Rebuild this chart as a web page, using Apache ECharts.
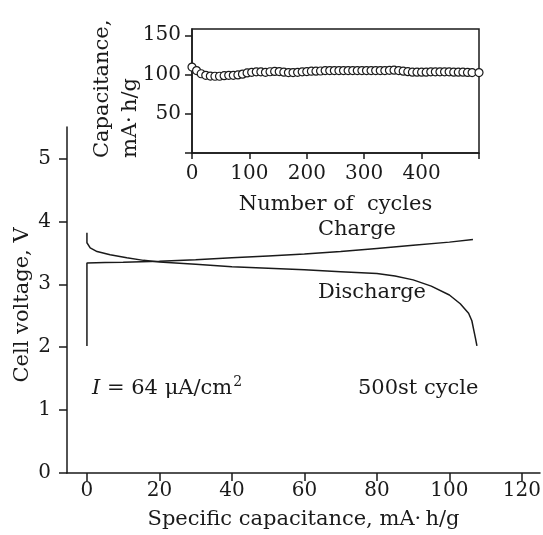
<!DOCTYPE html>
<html>
<head>
<meta charset="utf-8">
<script src="https://cdn.jsdelivr.net/npm/echarts@6/dist/echarts.min.js"></script>
<style>html,body{margin:0;padding:0;background:#fff}#c{width:543px;height:535px}</style>
</head>
<body>
<div id="c"></div>
<script>
// Main plot: 500th cycle charge/discharge curves
const chargeCap = [0, 0, 5, 10, 20, 30, 40, 50, 60, 70, 80, 90, 100, 106.5];
const chargeV   = [2.02, 3.34, 3.345, 3.35, 3.365, 3.39, 3.42, 3.45, 3.48, 3.52, 3.57, 3.62, 3.67, 3.71];
const dischargeCap = [0, 0, 0.9, 2.8, 6.4, 11, 15.6, 20, 30, 40, 50, 60, 70, 80, 85, 90, 95, 100, 103, 105.3, 106.2, 106.7, 107.2, 107.6];
const dischargeV   = [3.82, 3.66, 3.58, 3.52, 3.47, 3.42, 3.38, 3.355, 3.32, 3.28, 3.255, 3.23, 3.20, 3.17, 3.13, 3.07, 2.97, 2.83, 2.69, 2.54, 2.42, 2.28, 2.14, 2.02];
const mainXTicks = [0, 20, 40, 60, 80, 100, 120];
const mainYTicks = [0, 1, 2, 3, 4, 5];

// Inset: capacitance vs cycle number
const cycles = [0, 8, 16, 24, 32, 40, 48, 56, 64, 72, 80, 88, 96, 104, 112, 120, 128, 136, 144, 152, 160, 168, 176, 184, 192, 200, 208, 216, 224, 232, 240, 248, 256, 264, 272, 280, 288, 296, 304, 312, 320, 328, 336, 344, 352, 360, 368, 376, 384, 392, 400, 408, 416, 424, 432, 440, 448, 456, 464, 472, 480, 488, 500];
const capacity = [109.5, 105, 101, 99, 98, 97.8, 97.8, 98.5, 99, 99, 99.5, 100.5, 102, 102.8, 103.4, 103.4, 102.8, 103.5, 104, 103.8, 103, 102.5, 102.5, 102.8, 103.4, 103.8, 104.2, 104.3, 104.5, 105, 105, 105, 105, 105, 105, 105, 105, 105, 105, 105, 105, 105, 105, 105.3, 105.5, 105, 104.3, 103.6, 103, 103, 103, 103, 103.4, 103.4, 103.4, 103.4, 103.4, 103, 103, 103, 102.7, 102.5, 102.5];
const insetXLabels = [0, 100, 200, 300, 400];
const insetXTicks = [0, 100, 200, 300, 400, 500];
const insetYLabels = [50, 100, 150];
const insetYTicks = [0, 50, 100, 150];

const ink = '#1a1a1a';
const FONT = 'DejaVu Serif';
const FS = 21;

const zip = (a, b) => a.map((v, i) => [v, b[i]]);

const chart = echarts.init(document.getElementById('c'), null, {renderer: 'canvas'});
chart.setOption({
  animation: false,
  backgroundColor: '#fff',
  textStyle: {fontFamily: FONT, color: ink},
  grid: [
    {left: 67, right: 3, top: 127, bottom: 62, containLabel: false, outerBoundsMode: 'none'},
    {left: 192, right: 64, top: 29, bottom: 382, containLabel: false, outerBoundsMode: 'none', show: true, borderColor: ink, borderWidth: 1.5, backgroundColor: 'transparent'}
  ],
  xAxis: [
    {
      type: 'value', gridIndex: 0, min: -5.5, max: 125,
      name: 'Specific capacitance, mA·\u2009h/g', nameLocation: 'middle', nameGap: 36,
      nameTextStyle: {fontFamily: FONT, fontSize: FS, color: ink},
      axisLine: {show: true, onZero: false, lineStyle: {color: ink, width: 1.5}},
      axisTick: {show: true, length: 8, lineStyle: {color: ink, width: 1.5}, customValues: mainXTicks},
      axisLabel: {fontFamily: FONT, fontSize: 20, color: ink, margin: 8, customValues: mainXTicks},
      splitLine: {show: false}
    },
    {
      type: 'value', gridIndex: 1, min: 0, max: 500,
      name: 'Number of  cycles', nameLocation: 'middle', nameGap: 41,
      nameTextStyle: {fontFamily: FONT, fontSize: FS, color: ink},
      axisLine: {show: true, onZero: false, lineStyle: {color: ink, width: 1.5}},
      axisTick: {show: true, length: 6, lineStyle: {color: ink, width: 1.5}, customValues: insetXTicks},
      axisLabel: {fontFamily: FONT, fontSize: 20, color: ink, margin: 11, customValues: insetXLabels},
      splitLine: {show: false}
    }
  ],
  yAxis: [
    {
      type: 'value', gridIndex: 0, min: 0, max: 5.5,
      name: 'Cell voltage, V', nameLocation: 'middle', nameGap: 34, nameRotate: 90, nameMoveOverlap: false,
      nameTextStyle: {fontFamily: FONT, fontSize: FS, color: ink, padding: [0, 10, 0, 0]},
      axisLine: {show: true, onZero: false, lineStyle: {color: ink, width: 1.5}},
      axisTick: {show: true, length: 8, lineStyle: {color: ink, width: 1.5}, customValues: mainYTicks},
      axisLabel: {fontFamily: FONT, fontSize: 20, color: ink, margin: 16, customValues: mainYTicks},
      splitLine: {show: false}
    },
    {
      type: 'value', gridIndex: 1, min: 0, max: 158,
      axisLine: {show: true, onZero: false, lineStyle: {color: ink, width: 1.5}},
      axisTick: {show: true, length: 7, lineStyle: {color: ink, width: 1.5}, customValues: insetYTicks},
      axisLabel: {fontFamily: FONT, fontSize: 20, color: ink, margin: 11, customValues: insetYLabels},
      splitLine: {show: false}
    }
  ],
  series: [
    {
      name: 'Charge', type: 'line', xAxisIndex: 0, yAxisIndex: 0,
      data: zip(chargeCap, chargeV), showSymbol: false, symbol: 'none',
      lineStyle: {color: ink, width: 1.5}
    },
    {
      name: 'Discharge', type: 'line', xAxisIndex: 0, yAxisIndex: 0,
      data: zip(dischargeCap, dischargeV), showSymbol: false, symbol: 'none',
      lineStyle: {color: ink, width: 1.5}
    },
    {
      name: 'Capacitance', type: 'scatter', xAxisIndex: 1, yAxisIndex: 1,
      data: zip(cycles, capacity), symbol: 'circle', symbolSize: 8,
      itemStyle: {color: '#fff', borderColor: ink, borderWidth: 1.2, opacity: 1}
    }
  ],
  graphic: [
    {type: 'text', left: 318, top: 219, style: {text: 'Charge', font: FS + 'px "DejaVu Serif"', fill: ink}},
    {type: 'text', left: 318, top: 282, style: {text: 'Discharge', font: FS + 'px "DejaVu Serif"', fill: ink}},
    {type: 'text', left: 358, top: 378, style: {text: '500st cycle', font: FS + 'px "DejaVu Serif"', fill: ink}},
    {type: 'text', left: 92, top: 375, style: {
      text: '{i|I}{n| = 64 μA/cm}{sup|2}', fill: ink,
      rich: {
        i: {fontStyle: 'italic', fontFamily: FONT, fontSize: FS, color: ink, lineHeight: 28},
        n: {fontFamily: FONT, fontSize: FS, color: ink, lineHeight: 28},
        sup: {fontFamily: FONT, fontSize: 14, color: ink, lineHeight: 16, verticalAlign: 'top', padding: [0, 0, 0, 1]}
      }
    }},
    {type: 'text', x: 103, y: 158, rotation: Math.PI / 2, style: {text: 'Capacitance,', font: FS + 'px "DejaVu Serif"', fill: ink, align: 'left', verticalAlign: 'middle'}},
    {type: 'text', x: 131, y: 158, rotation: Math.PI / 2, style: {text: 'mA·\u2009h/g', font: FS + 'px "DejaVu Serif"', fill: ink, align: 'left', verticalAlign: 'middle'}}
  ]
});
</script>
</body>
</html>
